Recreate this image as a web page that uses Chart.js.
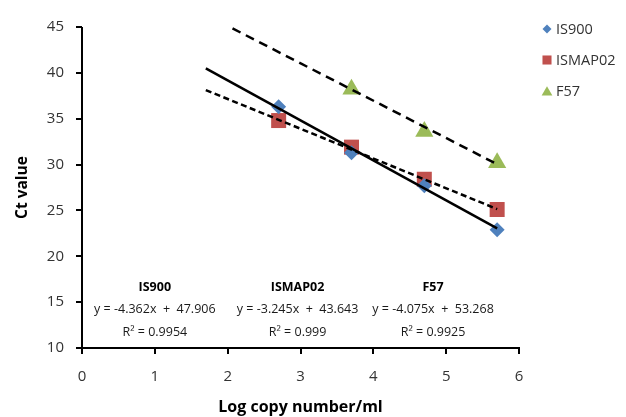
<!DOCTYPE html>
<html>
<head>
<meta charset="utf-8">
<script src="https://cdn.jsdelivr.net/npm/chart.js@4.4.1/dist/chart.umd.min.js"></script>
<style>
html,body{margin:0;padding:0;background:#fff;}
#wrap{width:626px;height:417px;position:relative;}
</style>
</head>
<body>
<div id="wrap"><canvas id="c" width="626" height="417"></canvas></div>
<script>
// ---- data ----
const seriesNames = ['IS900', 'ISMAP02', 'F57'];
const xIS900 = [2.7, 3.7, 4.7, 5.7];
const yIS900 = [36.3, 31.3, 27.7, 22.9];
const xISMAP02 = [2.7, 3.7, 4.7, 5.7];
const yISMAP02 = [34.8, 31.9, 28.4, 25.1];
const xF57 = [3.7, 4.7, 5.7];
const yF57 = [38.2, 33.6, 30.2];
// trendline equations shown on the chart
const slopes = [-4.362, -3.245, -4.075];
const intercepts = [47.906, 43.643, 53.268];
const r2 = ['0.9954', '0.999', '0.9925'];
const trendRange = [1.7, 5.7];
const annX = [1.0, 2.96, 4.82];
const xTicks = [0, 1, 2, 3, 4, 5, 6];
const yTicks = [10, 15, 20, 25, 30, 35, 40, 45];

const colors = ['#4F81BD', '#C0504D', '#9BBB59'];
const styles = ['rectRot', 'rect', 'triangle'];
const radii = [7.5, 10.6, 10.5];
const dashes = [[], [6, 3.5], [9, 6]];

const pts = (xs, ys) => xs.map((x, i) => ({x, y: ys[i]}));
const series = [pts(xIS900, yIS900), pts(xISMAP02, yISMAP02), pts(xF57, yF57)];

const datasets = [];
series.forEach((d, i) => {
  datasets.push({
    label: seriesNames[i], data: d, showLine: false,
    pointStyle: styles[i], pointRadius: radii[i], pointHoverRadius: radii[i],
    backgroundColor: colors[i], borderColor: colors[i], borderWidth: 0, order: 2
  });
});
slopes.forEach((m, i) => {
  datasets.push({
    label: 'trend ' + seriesNames[i],
    data: trendRange.map(x => ({x, y: m * x + intercepts[i]})),
    showLine: true, pointRadius: 0, borderColor: '#000', borderWidth: 2.5,
    borderDash: dashes[i], fill: false, order: 1
  });
});

const FONT = "'Open Sans', 'Noto Sans', sans-serif";

const axesPlugin = {
  id: 'axesLines',
  afterDraw(chart) {
    const ctx = chart.ctx, xs = chart.scales.x, ys = chart.scales.y;
    const x0 = Math.round(xs.getPixelForValue(xs.min)), y0 = Math.round(ys.getPixelForValue(ys.min));
    const top = Math.round(ys.getPixelForValue(ys.max)), right = Math.round(xs.getPixelForValue(xs.max));
    ctx.save();
    ctx.fillStyle = '#000000';
    ctx.fillRect(x0 - 1, top, 2, y0 - top + 1);
    ctx.fillRect(x0 - 1, y0 - 1, right - x0 + 2, 2);
    yTicks.forEach(v => { const p = Math.round(ys.getPixelForValue(v)); ctx.fillRect(x0 - 6, p - 1, 6, 2); });
    xTicks.forEach(v => { const p = Math.round(xs.getPixelForValue(v)); ctx.fillRect(p - 1, y0, 2, 6); });
    ctx.restore();
  }
};

const annotPlugin = {
  id: 'annot',
  afterDraw(chart) {
    const ctx = chart.ctx, xs = chart.scales.x, ys = chart.scales.y;
    ctx.save();
    ctx.textAlign = 'center';
    ctx.textBaseline = 'middle';
    seriesNames.forEach((n, i) => {
      const cx = xs.getPixelForValue(annX[i]);
      const b = ys.getPixelForValue(10);
      ctx.font = "bold 12.5px " + FONT;
      ctx.fillStyle = '#000';
      ctx.fillText(n, cx, b - 61);
      ctx.font = "12.5px " + FONT;
      ctx.fillStyle = '#1a1a1a';
      const sgn = intercepts[i] >= 0 ? '+' : '-';
      ctx.fillText('y = ' + slopes[i] + 'x  ' + sgn + '  ' + Math.abs(intercepts[i]).toFixed(3), cx, b - 38.5);
      ctx.fillText('R\u00B2 = ' + r2[i], cx, b - 16);
    });
    // legend
    const lx = chart.chartArea.right + 28;
    const lyStart = 29, gap = 31;
    const lr = [4.5, 6.4, 6.2];
    seriesNames.forEach((n, i) => {
      const y = lyStart + i * gap;
      ctx.fillStyle = colors[i];
      Chart.helpers.drawPoint(ctx, {pointStyle: styles[i], radius: lr[i], borderWidth: 0}, lx, y + (i === 2 ? 1.5 : 0));
      ctx.fillStyle = '#333';
      ctx.font = "14.5px " + FONT;
      ctx.textAlign = 'left';
      ctx.fillText(n, lx + 9, y + 1);
    });
    ctx.restore();
  }
};

new Chart(document.getElementById('c'), {
  type: 'scatter',
  data: {datasets},
  plugins: [axesPlugin, annotPlugin],
  options: {
    responsive: false,
    animation: false,
    devicePixelRatio: 1,
    layout: {autoPadding: false, padding: {left: 0, top: 21, right: 107, bottom: 0}},
    plugins: {legend: {display: false}, tooltip: {enabled: false}},
    scales: {
      x: {
        type: 'linear', min: 0, max: 6,
        afterBuildTicks: s => { s.ticks = xTicks.map(v => ({value: v})); },
        afterFit: s => { s.height = 69; },
        grid: {display: false, drawTicks: false},
        border: {display: false},
        ticks: {padding: 20, color: '#333', font: {family: FONT, size: 15}},
        title: {display: true, text: 'Log copy number/ml', color: '#000', padding: {top: 0, bottom: 0}, font: {family: FONT, size: 16, weight: 'bold'}}
      },
      y: {
        type: 'linear', min: 10, max: 45,
        afterBuildTicks: s => { s.ticks = yTicks.map(v => ({value: v})); },
        afterFit: s => { s.width = 82; },
        grid: {display: false, drawTicks: false},
        border: {display: false},
        ticks: {padding: 18, color: '#333', font: {family: FONT, size: 15}},
        title: {display: true, text: 'Ct value', color: '#000', padding: {top: 13, bottom: 0}, font: {family: FONT, size: 15.5, weight: 'bold'}}
      }
    }
  }
});
</script>
</body>
</html>
